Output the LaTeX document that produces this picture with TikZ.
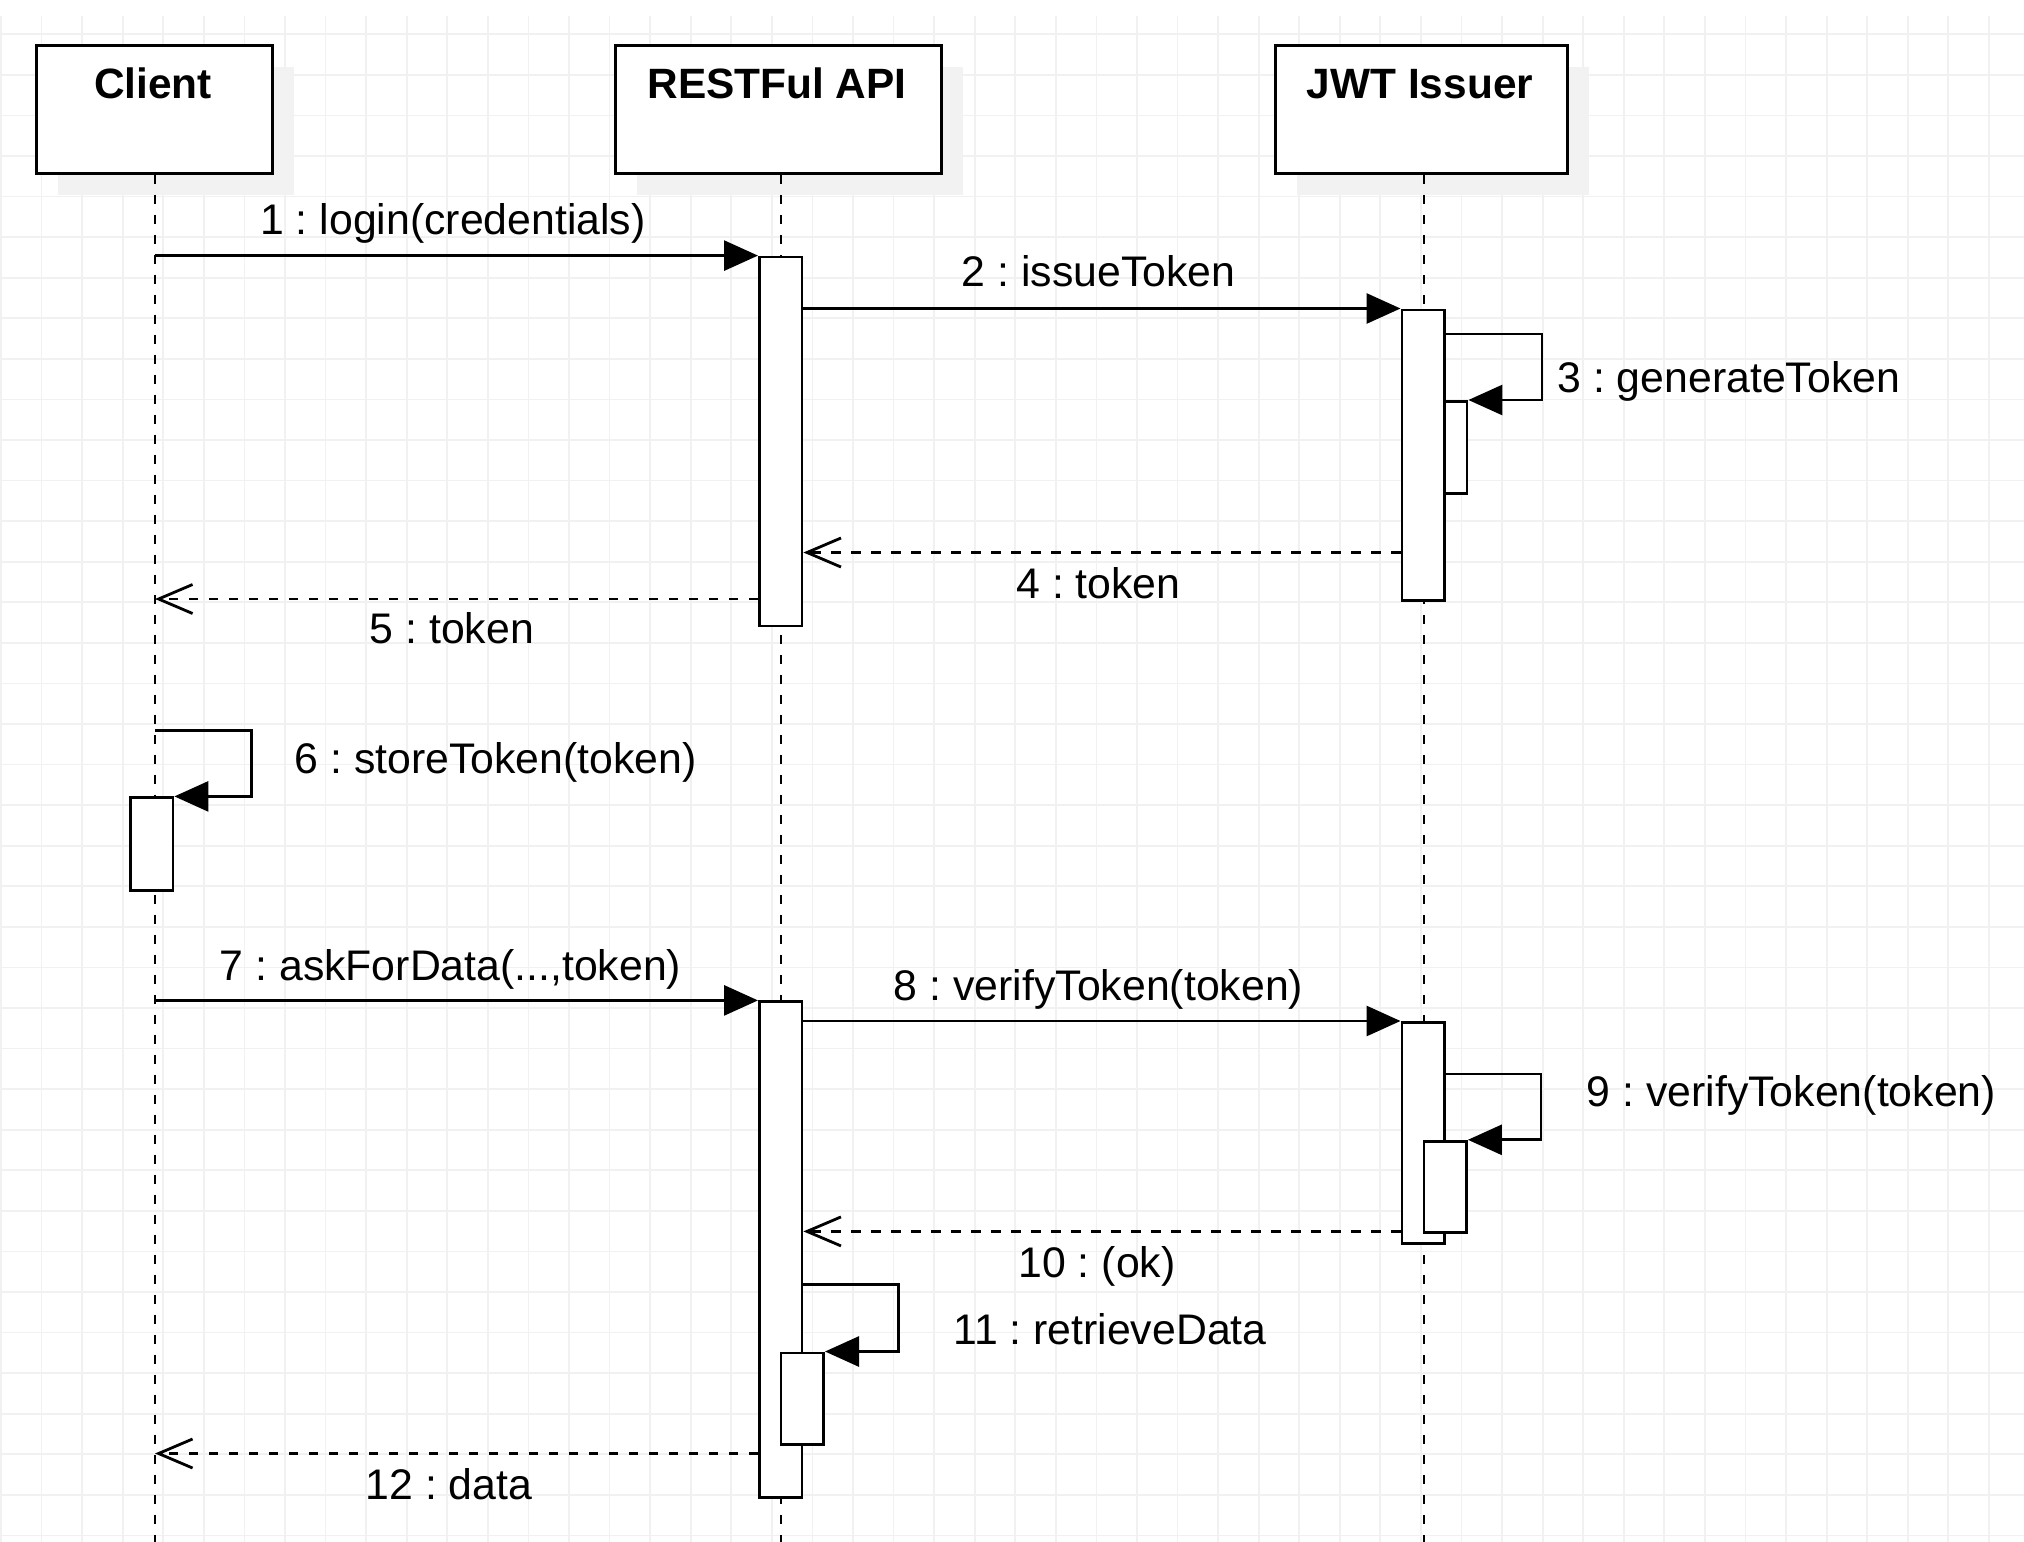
\documentclass[tikz,border=0pt]{standalone}
\usepackage{fontspec}
\setmainfont{Liberation Sans}
\usetikzlibrary{arrows.meta,calc}
\definecolor{gridc}{HTML}{F1F1F1}
\definecolor{shadowc}{HTML}{F2F2F2}
\begin{document}
\frenchspacing
\begin{tikzpicture}[x=0.5pt,y=-0.5pt,
  lbl/.style={font=\fontsize{21.4}{25}\selectfont, inner sep=0pt, anchor=base},
  lblw/.style={font=\fontsize{21.4}{25}\selectfont, inner sep=0pt, anchor=base west},
  ttl/.style={font=\bfseries\fontsize{21.2}{25}\selectfont, inner sep=0pt, anchor=base},
  obj/.style={draw, line width=1.45pt, fill=white, inner sep=0pt, anchor=north west, minimum height=64pt},
  shd/.style={fill=shadowc, draw=none},
  life/.style={line width=1.4pt, dash pattern=on 4.65pt off 5.35pt},
  act/.style={draw, line width=1.4pt, fill=white, inner sep=0pt, anchor=north west, minimum width=21.3pt},
  msg/.style={line width=1.45pt, -{Triangle[length=17pt,width=15pt]}},
  ret/.style={line width=1.4pt, dash pattern=on 4.6pt off 5.4pt, -{Straight Barb[length=17pt,width=14.5pt,line width=1.4pt]}},
  slf/.style={line width=1.4pt, -{Triangle[length=17pt,width=15pt]}},
  gl/.style={draw=gridc, line width=0.9pt}
]
\useasboundingbox (0,0) rectangle (2024,1542);
\fill[white] (0,0) rectangle (2024,1542);
% grid
\foreach \k in {0,...,49} \draw[gl] ({1+40.57*\k},16) -- ({1+40.57*\k},1542);
\foreach \k in {0,...,37} \draw[gl] (0,{34.3+40.57*\k}) -- (2024,{34.3+40.57*\k});
% shadows
\fill[shd] (58,67) rectangle (294,195);
\fill[shd] (637,67) rectangle (963,195);
\fill[shd] (1297,67) rectangle (1589,195);
% object boxes
\node[obj, minimum width=118pt] (cli) at (35,44) {};
\node[obj, minimum width=163pt] (api) at (614,44) {};
\node[obj, minimum width=146pt] (jwt) at (1274,44) {};
\node[ttl] (tcli) at (153,98) {Client};
\node[ttl] (tapi) at (777,98) {RESTFul API};
\node[ttl] (tjwt) at (1420,98) {JWT Issuer};
% lifelines
\coordinate (cliB) at (155,1542);
\coordinate (apiB) at (781,1542);
\coordinate (jwtB) at (1424,1542);
\draw[life] (cli.south -| cliB) -- (cliB);
\draw[life] (api.south -| apiB) -- (apiB);
\draw[life] (jwt.south -| jwtB) -- (jwtB);
% activations
\node[act, minimum height=184.5pt] (ra1) at (758,255.6) {};
\node[act, minimum height=46pt] (ja1n) at (1423,400) {};
\node[act, minimum height=145.25pt] (ja1) at (1400.5,308.5) {};
\node[act, minimum height=46.5pt] (ca) at (129,796.4) {};
\node[act, minimum height=247.8pt] (ra2) at (758,1000.4) {};
\node[act, minimum height=110.35pt] (ja2) at (1400.5,1021) {};
\node[act, minimum height=45.8pt] (ja2n) at (1422.5,1139.8) {};
\node[act, minimum height=45.75pt] (ra2n) at (779.6,1351.5) {};
% messages
\coordinate (m1) at (155,255.6);
\draw[msg] (m1) -- (ra1.north west);
\draw[msg] (ja1.north west -| ra1.east) -- (ja1.north west);
\coordinate (s3) at (1542,334);
\draw[slf] (s3 -| ja1.east) -- (s3) -- (s3 |- ja1n.north) -- (ja1n.north east);
\coordinate (m4) at (0,552.5);
\draw[ret] (m4 -| ja1.west) -- (m4 -| ra1.east);
\coordinate (m5) at (155,599);
\draw[ret] (m5 -| ra1.west) -- (m5);
\coordinate (s6) at (251.7,730.6);
\draw[slf] (s6 -| cliB) -- (s6) -- (s6 |- ca.north) -- (ca.north east);
\coordinate (m7) at (155,1000.4);
\draw[msg] (m7) -- (ra2.north west);
\draw[msg] (ja2.north west -| ra2.east) -- (ja2.north west);
\coordinate (s9) at (1541,1074);
\draw[slf] (s9 -| ja2.east) -- (s9) -- (s9 |- ja2n.north) -- (ja2n.north east);
\coordinate (m10) at (0,1231.4);
\draw[ret] (m10 -| ja2.west) -- (m10 -| ra2.east);
\coordinate (s11) at (898.4,1284.3);
\draw[slf] (s11 -| ra2.east) -- (s11) -- (s11 |- ra2n.north) -- (ra2n.north east);
\coordinate (m12) at (155,1453.5);
\draw[ret] (m12 -| ra2.west) -- (m12);
% labels
\node[lbl] (l1) at (453,234) {1 : login(credentials)};
\node[lbl] (l2) at (1098.5,286.5) {2 : issueToken};
\node[lblw] (l3) at (1557,392) {3 : generateToken};
\node[lbl] (l4) at (1098.5,598) {4 : token};
\node[lbl] (l5) at (451.8,643) {5 : token};
\node[lblw] (l6) at (294.3,773.5) {6 : storeToken(token)};
\node[lbl] (l7) at (450.5,980) {7 : askForData(...,token)};
\node[lbl] (l8) at (1098.5,1000.5) {8 : verifyToken(token)};
\node[lblw] (l9) at (1586.4,1106.5) {9 : verifyToken(token)};
\node[lbl] (l10) at (1097,1277) {10 : (ok)};
\node[lbl] (l11) at (1110,1344) {11 : retrieveData};
\node[lbl] (l12) at (449,1499) {12 : data};
\end{tikzpicture}
\end{document}
